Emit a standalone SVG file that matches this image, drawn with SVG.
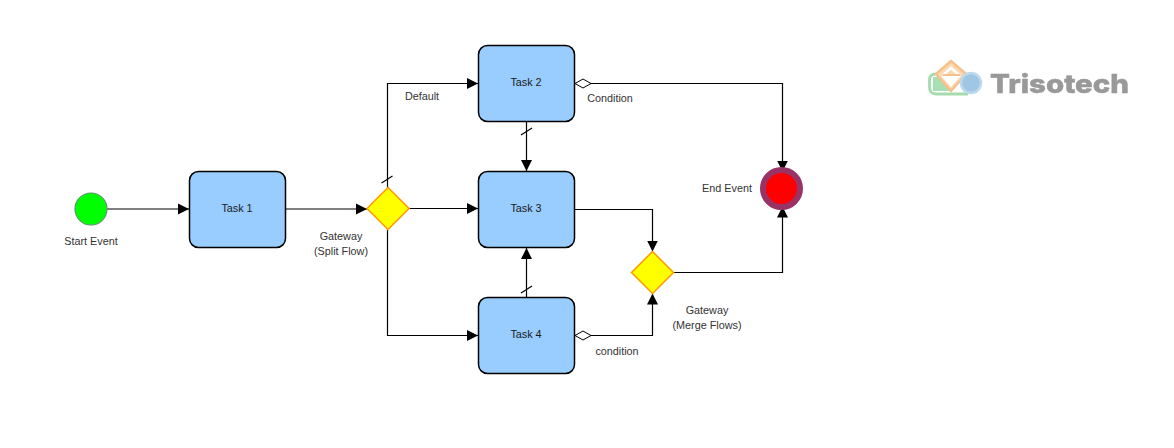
<svg xmlns="http://www.w3.org/2000/svg" width="1174" height="448" viewBox="0 0 1174 448">
<style>
text{font-family:"Liberation Sans",Arial,sans-serif;font-size:10.800px;text-anchor:middle;fill:#333}
.task rect{fill:#99ccff;stroke:#000;stroke-width:1.5}
.task text{fill:#1a1a1a}
.gw{fill:#ffff00;stroke:#ff9900;stroke-width:1.5}
#conn path{fill:none;stroke:#000;stroke-width:1.2}
#conn path.t{marker-end:url(#a)}
#conn path.c{marker-start:url(#d);marker-end:url(#a)}
</style>
<defs>
<marker id="a" markerUnits="userSpaceOnUse" markerWidth="12" markerHeight="12" refX="11" refY="6" orient="auto"><path d="M0 0.500L11 6L0 11.500Z" fill="#000"/></marker>
<marker id="d" markerUnits="userSpaceOnUse" markerWidth="18" markerHeight="12" refX="0.500" refY="6" orient="auto"><path d="M0.500 6L8.500 1.500L16.500 6L8.500 10.500Z" fill="#fff" stroke="#000" stroke-width="1"/></marker>
<filter id="soft" x="-5%" y="-5%" width="110%" height="110%"><feGaussianBlur stdDeviation="0.400"/></filter>
</defs>
<rect width="1174" height="448" fill="#fff"/>
<g id="conn">
<path class="t" d="M107 209H189"/>
<path class="t" d="M286 209H367"/>
<path class="t" d="M387.500 188V83.500H478"/>
<path class="t" d="M409 208.500H478"/>
<path class="t" d="M387.500 230V335.500H478"/>
<path class="t" d="M526.500 122V171"/>
<path class="t" d="M526.500 297V248"/>
<path class="c" d="M575 83.500H782.500V171.500"/>
<path class="t" d="M575 209.500H652.500V251.500"/>
<path class="c" d="M575 335.500H652.500V293.500"/>
<path class="t" d="M674 272.500H782.500V206.500"/>
<path d="M381.500 183L392.500 176"/>
<path d="M521 135L532 128"/>
<path d="M521 293L532 286"/>
</g>
<g id="start"><circle cx="91" cy="209" r="16" fill="#00ff00" stroke="#5a9a6a" stroke-width="1.200"/><text x="91" y="245">Start Event</text></g>
<g id="task1" class="task"><rect x="189.500" y="171.500" width="96" height="76" rx="9"/><text x="237" y="212">Task 1</text></g>
<g id="split"><path class="gw" d="M388 187.500L409 208.500L388 229.500L367 208.500Z"/><text x="341" y="240">Gateway</text><text x="341" y="255">(Split Flow)</text></g>
<g id="task2" class="task"><rect x="478.500" y="45.500" width="96" height="76" rx="9"/><text x="526" y="86">Task 2</text></g>
<g id="task3" class="task"><rect x="478.500" y="171.500" width="96" height="76" rx="9"/><text x="526" y="212">Task 3</text></g>
<g id="task4" class="task"><rect x="478.500" y="297.500" width="96" height="76" rx="9"/><text x="526" y="338">Task 4</text></g>
<g id="merge"><path class="gw" d="M652.500 251.500L673.500 272.500L652.500 293.500L631.500 272.500Z"/><text x="707" y="314">Gateway</text><text x="707" y="329">(Merge Flows)</text></g>
<g id="end"><circle cx="781.500" cy="188.500" r="18.500" fill="#ff0000" stroke="#993366" stroke-width="6"/><text x="727" y="192">End Event</text></g>
<g id="labels"><text x="422" y="100">Default</text><text x="610" y="102">Condition</text><text x="617" y="355">condition</text></g>
<g id="logo" filter="url(#soft)">
<path d="M936 74Q929.500 74 929.500 80V87Q929.500 94 936 94H968" fill="none" stroke="#a4dcae" stroke-width="2.800"/>
<path d="M933 77H940L951 91H933Z" fill="#a8e0b4"/>
<path d="M936 74L951 61L966 74L951 91Z" fill="#fbd9b2" stroke="#f7c08a" stroke-width="2.400" stroke-linejoin="round"/>
<path d="M943 75L951 68L959 75" fill="none" stroke="#fff" stroke-width="2.500"/>
<path d="M941 76H961L951 87Z" fill="#fff"/>
<path d="M943 75H960" stroke="#f7c08a" stroke-width="2" fill="none"/>
<circle cx="971" cy="83" r="10" fill="#9fc6e2" stroke="#bcd9ee" stroke-width="2.500"/>
<text x="990" y="93" textLength="139" lengthAdjust="spacingAndGlyphs" stroke="#999" stroke-width="0.500" style="font-family:Inter,sans-serif;font-size:26px;font-weight:800;fill:#999;text-anchor:start">Trisotech</text>
</g>
</svg>
